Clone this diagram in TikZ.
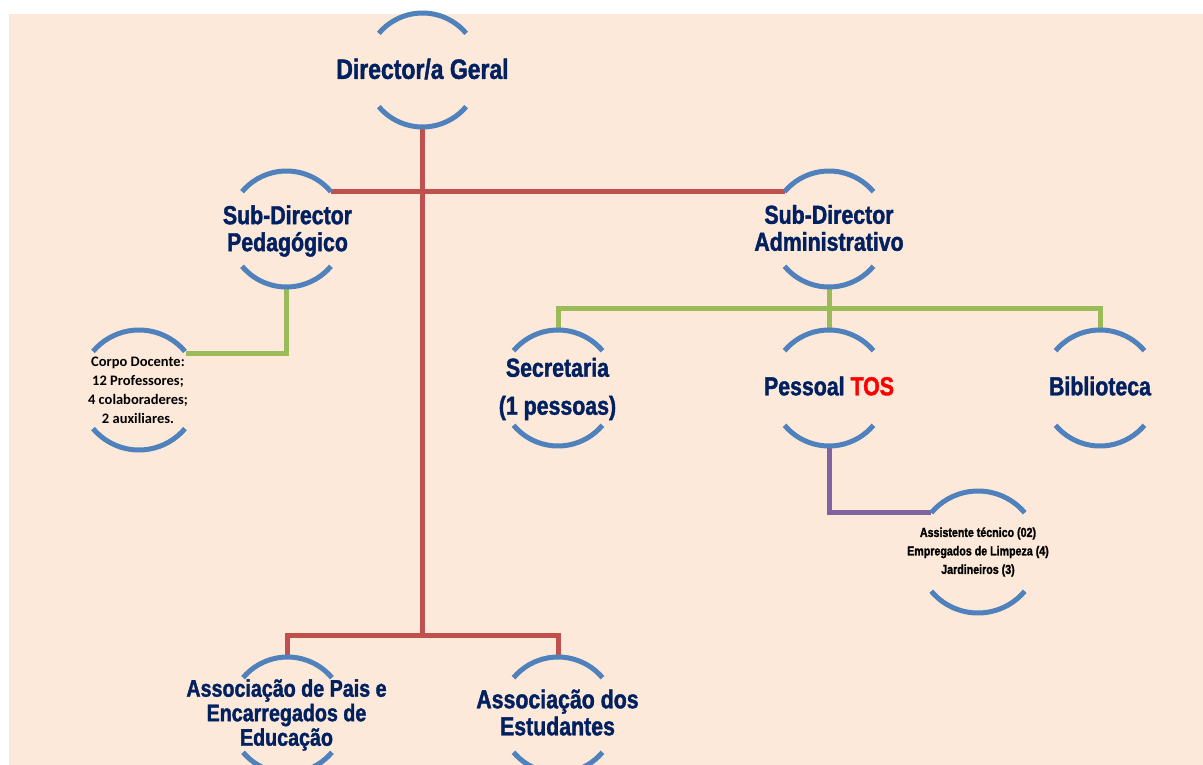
\documentclass[tikz,border=0pt]{standalone}
\usepackage{fontspec}
\newfontfamily\nbfont[FakeStretch=0.82,BoldFeatures={FakeBold=1.5}]{Liberation Sans}
\newfontfamily\calfont{Carlito}
\definecolor{bgpeach}{HTML}{FDE9D9}
\definecolor{ringblue}{HTML}{4F81BD}
\definecolor{linered}{HTML}{C0504D}
\definecolor{linegreen}{HTML}{9BBB59}
\definecolor{linepurple}{HTML}{8064A2}
\definecolor{navytext}{HTML}{002060}
\tikzset{
  ring/.style={circle, minimum size=#1, inner sep=0pt, outer sep=0pt},
  arcline/.style={ringblue, line width=5pt},
  redline/.style={linered, line width=5pt},
  greenline/.style={linegreen, line width=5pt},
  purpleline/.style={linepurple, line width=5pt},
  lbl/.style={text=navytext, align=center, inner sep=0pt, outer sep=0pt},
  f28/.style={font={\nbfont\bfseries\fontsize{28}{30}\selectfont}},
  f26/.style={font={\nbfont\bfseries\fontsize{26}{27}\selectfont}},
  f26wide/.style={font={\nbfont\bfseries\fontsize{26}{38}\selectfont}},
  f24/.style={font={\nbfont\bfseries\fontsize{24}{24.5}\selectfont}},
  smallcal/.style={text=black, align=center, inner sep=0pt, font={\calfont\bfseries\fontsize{14.5}{19}\selectfont}},
  smallnar/.style={text=black, align=center, inner sep=0pt, font={\nbfont\bfseries\fontsize{13}{18.5}\selectfont}},
}
\newcommand\ringarcs[2]{%
  \draw[arcline] (#1.40) arc[start angle=40,end angle=140,radius=#2];
  \draw[arcline] (#1.220) arc[start angle=220,end angle=320,radius=#2];
}
\begin{document}
\begin{tikzpicture}[x=1pt,y=1pt]
\useasboundingbox (0,0) rectangle (1203,-765);
\fill[white] (0,0) rectangle (1203,-765);
\fill[bgpeach] (9,-14) rectangle (1203,-765);

% ring nodes
\node[ring=114] (dir) at (422.5,-70) {};
\node[ring=116] (sdp) at (286.5,-229) {};
\node[ring=116] (sda) at (829,-229) {};
\node[ring=120] (cd)  at (139,-390) {};
\node[ring=116] (sec) at (558,-388) {};
\node[ring=116] (tos) at (829,-388) {};
\node[ring=116] (bib) at (1100,-388) {};
\node[ring=122] (ast) at (978,-552) {};
\node[ring=116] (ape) at (287.5,-715) {};
\node[ring=116] (ade) at (558,-715) {};

\coordinate (rj) at (422.5,-635);
\coordinate (gj) at (829,-308);

% connectors
\draw[redline] (dir.south) -- (rj);
\draw[redline] (sdp.40) -- (sda.140);
\draw[redline] (ape.north) |- (rj) -| (ade.north);
\draw[greenline] (sdp.south) |- (cd.38);
\draw[greenline] (sda.south) -- (tos.north);
\draw[greenline] (sec.north) |- (gj) -| (bib.north);
\draw[purpleline] (tos.south) |- (ast.140);

% arcs
\ringarcs{dir}{57}
\ringarcs{sdp}{58}
\ringarcs{sda}{58}
\ringarcs{cd}{60}
\ringarcs{sec}{58}
\ringarcs{tos}{58}
\ringarcs{bib}{58}
\ringarcs{ast}{61}
\ringarcs{ape}{58}
\ringarcs{ade}{58}

% labels
\node[lbl,f28] (dir-t) at (422.5,-69) {Director/a Geral};
\node[lbl,f26] (sdp-t) at (287.5,-231) {Sub-Director\\Pedagógico};
\node[lbl,f26] (sda-t) at (829,-228) {Sub-Director\\Administrativo};
\node[smallcal] (cd-t) at (138,-390) {Corpo Docente:\\12 Professores;\\4 colaboraderes;\\2 auxiliares.};
\node[lbl,f26wide] (sec-t) at (557.5,-389) {Secretaria\\(1 pessoas)};
\node[lbl,f26] (tos-t) at (829,-386) {Pessoal \textcolor{red}{TOS}};
\node[lbl,f26] (bib-t) at (1100,-386) {Biblioteca};
\node[smallnar] (ast-t) at (978,-552) {Assistente técnico (02)\\Empregados de Limpeza (4)\\Jardineiros (3)};
\node[lbl,f24] (ape-t) at (286.5,-715) {Associação de Pais e\\Encarregados de\\Educação};
\node[lbl,f26] (ade-t) at (557.5,-712.5) {Associação dos\\Estudantes};
\end{tikzpicture}
\end{document}
